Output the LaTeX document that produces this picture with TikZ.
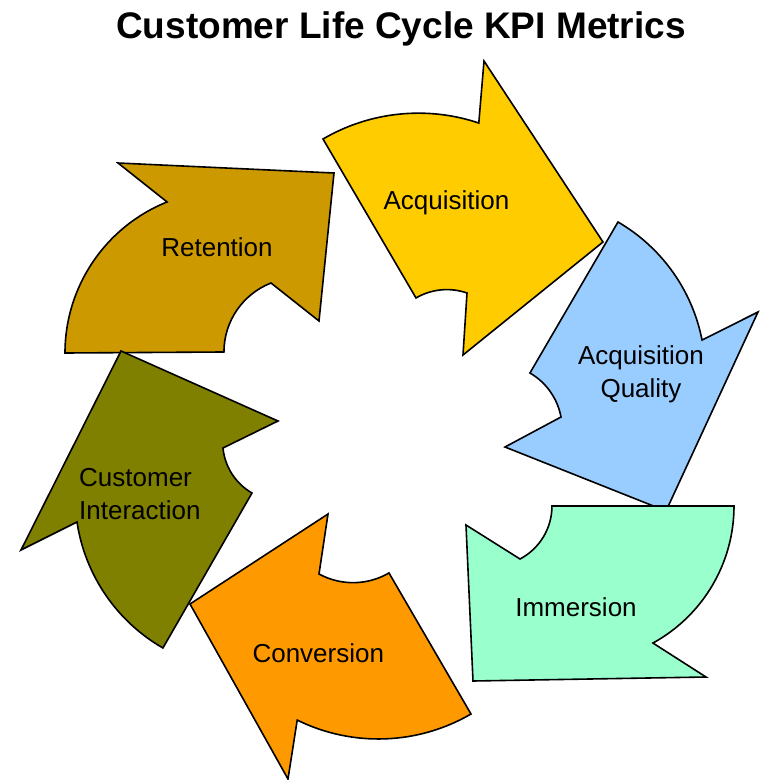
\documentclass[tikz,border=0pt]{standalone}
\usepackage{fontspec}
\setmainfont{Liberation Sans}

\definecolor{acqyellow}{HTML}{FFCC00}
\definecolor{qualblue}{HTML}{99CCFF}
\definecolor{immgreen}{HTML}{99FFCC}
\definecolor{convorange}{HTML}{FF9900}
\definecolor{intolive}{HTML}{808000}
\definecolor{retgold}{HTML}{CC9900}

\begin{document}
\begin{tikzpicture}[x=1pt,y=-1pt,
    piece/.style={draw=black,line width=1.6pt,line join=miter},
    lbl/.style={font=\fontsize{26}{33}\selectfont,inner sep=0pt,anchor=base}]

      \useasboundingbox (0,0) rectangle (764,780);

      \node[font=\fontsize{37}{40}\selectfont\bfseries,inner sep=0pt,anchor=base] (title) at (401,38) {Customer Life Cycle KPI Metrics};

      % the six arrows, clockwise
      \draw[piece,fill=retgold] (65,353) arc[start angle=180,end angle=248.1,radius=162.8] -- (118,163) -- (334,173) -- (319,321) -- (271,283) arc[start angle=248.6,end angle=180,radius=74.1] -- cycle;
      \draw[piece,fill=acqyellow] (323,139) arc[start angle=239.7,end angle=288.6,radius=189.2] -- (484,61) -- (603,242) -- (463,355) -- (467,293) arc[start angle=289.2,end angle=239.7,radius=61.2] -- cycle;
      \draw[piece,fill=qualblue] (618,222) arc[start angle=300.2,end angle=348.9,radius=175.7] -- (758,312) -- (666,511) -- (505,447) -- (561,417) arc[start angle=349.4,end angle=300.2,radius=64.7] -- cycle;
      \draw[piece,fill=immgreen] (734,506) arc[start angle=0,end angle=61.2,radius=156.4] -- (706,677) -- (473,681) -- (466,525) -- (520,559) arc[start angle=62.2,end angle=0,radius=59.9] -- cycle;
      \draw[piece,fill=convorange] (471,714) arc[start angle=59.8,end angle=116.2,radius=184] -- (288,779) -- (190,604) -- (328,514) -- (319,574) arc[start angle=118.5,end angle=59.8,radius=71.4] -- cycle;
      \draw[piece,fill=intolive] (77,522) arc[start angle=171.5,end angle=119.9,radius=175.2] -- (252,493) arc[start angle=119.9,end angle=174.5,radius=58.4] -- (278,421) -- (121,351) -- (21,550) -- cycle;

      \begin{scope}[every node/.style={lbl}]
        \node (ret)   at (217,256)   {Retention};
        \node (acq)   at (446.5,209) {Acquisition};
        \node[align=center] (qual) at (641,397) {Acquisition\\Quality};
        \node (imm)   at (576,616)   {Immersion};
        \node (conv)  at (318.3,662) {Conversion};
        \node[anchor=base west,align=left] (inter) at (79,519) {Customer\\Interaction};
      \end{scope}

    \end{tikzpicture}
\end{document}
